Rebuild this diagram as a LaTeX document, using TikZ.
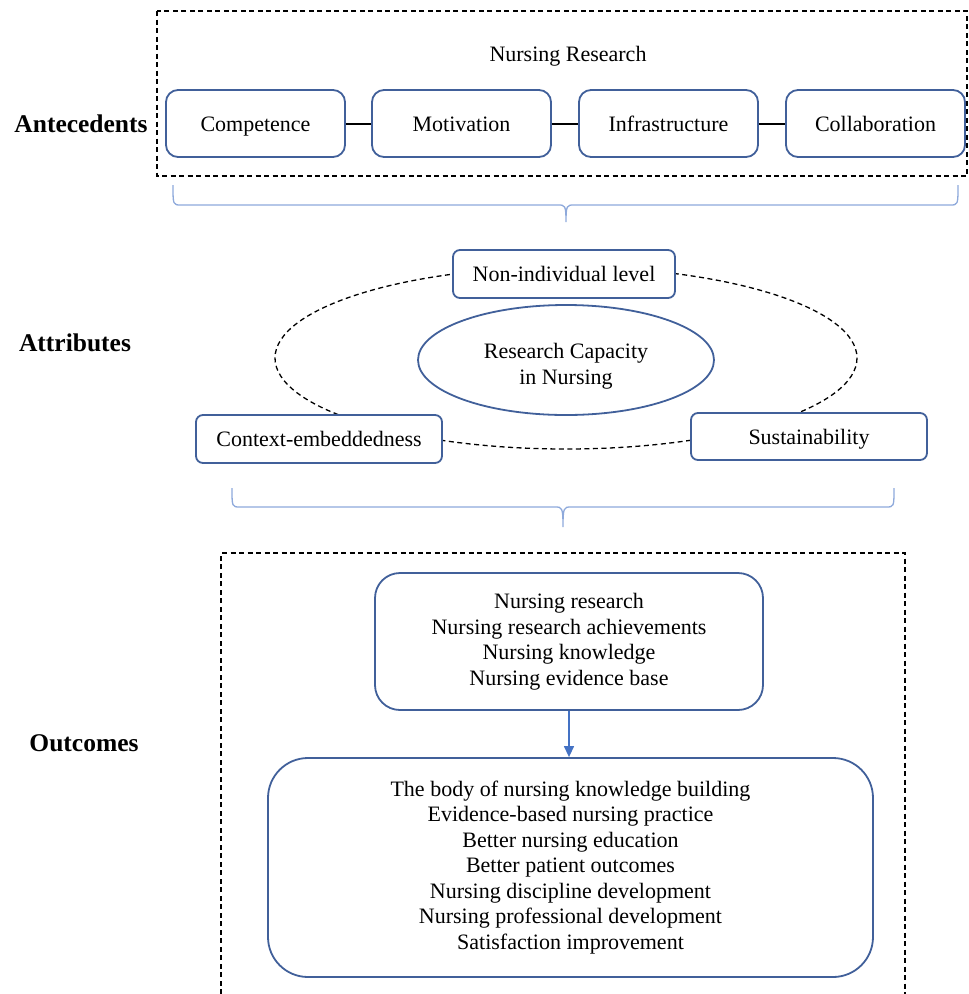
\documentclass[tikz,border=0pt]{standalone}
\usepackage{fontspec}
\setmainfont{Liberation Serif}
\usetikzlibrary{arrows.meta,shapes.geometric}
\definecolor{boxblue}{HTML}{41609A}
\definecolor{braceblue}{HTML}{8EA9DB}
\definecolor{arrowblue}{HTML}{4472C4}
\begin{document}
\begin{tikzpicture}[x=1pt,y=-1pt,
  txt/.style={font=\fontsize{22}{25.5}\selectfont, align=center, inner sep=0pt},
  heading/.style={font=\fontsize{25.5}{28}\selectfont\bfseries, inner sep=0pt},
  abox/.style={txt, draw=boxblue, line width=1.8pt, fill=white, rounded corners=12pt, text height=21pt, text depth=5pt},
  tbox/.style={txt, draw=boxblue, line width=1.8pt, fill=white, rounded corners=7pt, text height=20pt, text depth=5pt},
  dashbox/.style={draw=black, line width=1.3pt, dash pattern=on 5pt off 3.5pt},
  conn/.style={draw=black, line width=2pt},
  bracestyle/.style={draw=braceblue, line width=1.3pt},
]
\useasboundingbox (0,0) rectangle (969,994);

% Antecedents
\node[heading] (lant) at (81,124) {Antecedents};
\draw[dashbox] (157,11) rectangle (967,176);
\node[txt] (nr) at (568,56) {Nursing Research};
\node[abox, minimum width=179pt, minimum height=67pt] (comp) at (255.5,123.5) {Competence};
\node[abox, minimum width=179pt, minimum height=67pt] (moti) at (461.5,123.5) {Motivation};
\node[abox, minimum width=179pt, minimum height=67pt] (infr) at (668.5,123.5) {Infrastructure};
\node[abox, minimum width=179pt, minimum height=67pt] (coll) at (875.5,123.5) {Collaboration};
\draw[conn] (comp.east) -- (moti.west);
\draw[conn] (moti.east) -- (infr.west);
\draw[conn] (infr.east) -- (coll.west);

% brace 1
\draw[bracestyle] (173,185) .. controls (173,205) and (173,205) .. (181,205)
  -- (558,205) .. controls (565,205) and (566,205) .. (566,222)
  .. controls (566,205) and (567,205) .. (574,205)
  -- (950,205) .. controls (958,205) and (958,205) .. (958,185);

% Attributes
\node[heading] (latt) at (75,343) {Attributes};
\draw[dashbox] (566,358) ellipse [x radius=291, y radius=91];
\node[draw=boxblue, line width=1.8pt, ellipse, minimum width=296pt, minimum height=110pt, inner sep=0pt] (rc) at (566,360) {};
\node[txt] (rct) at (566,366) {Research Capacity\\in Nursing};
\node[tbox, minimum width=222pt, minimum height=48pt] (noni) at (564,274) {Non-individual level};
\node[tbox, minimum width=246pt, minimum height=48pt] (ctx) at (319,439) {Context-embeddedness};
\node[tbox, minimum width=236pt, minimum height=47pt] (sust) at (809,436.5) {Sustainability};

% brace 2
\draw[bracestyle] (232,488) .. controls (232,507) and (232,507) .. (240,507)
  -- (555,507) .. controls (562,507) and (563,507) .. (563,527)
  .. controls (563,507) and (564,507) .. (571,507)
  -- (886,507) .. controls (894,507) and (894,507) .. (894,488);

% Outcomes
\node[heading] (lout) at (84,743) {Outcomes};
\draw[dashbox] (221,994) -- (221,553) -- (905,553) -- (905,994);
\node[txt, draw=boxblue, line width=1.8pt, rounded corners=25pt, minimum width=388pt, minimum height=137pt] (o1) at (569,641.5)
  {Nursing research\\Nursing research achievements\\Nursing knowledge\\Nursing evidence base};
\node[txt, draw=boxblue, line width=1.8pt, rounded corners=40pt, minimum width=605pt, minimum height=219pt] (o2) at (570.5,867.5)
  {The body of nursing knowledge building\\Evidence-based nursing practice\\Better nursing education\\Better patient outcomes\\Nursing discipline development\\Nursing professional development\\Satisfaction improvement};
\draw[draw=arrowblue, line width=1.3pt, -{Triangle[length=11pt,width=10pt]}] (o1.south) -- (o1.south |- o2.north);
\end{tikzpicture}
\end{document}
